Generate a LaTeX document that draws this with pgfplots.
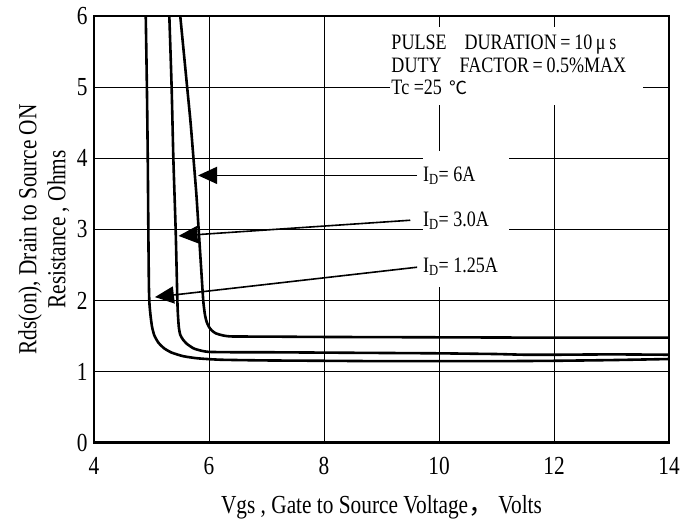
\documentclass[border=0pt]{standalone}
\usepackage{fontspec}
\setmainfont{Liberation Serif}[FakeStretch=0.82]
\newfontfamily\cjk{Noto Sans CJK SC}
\usepackage{pgfplots}
\pgfplotsset{compat=1.18}
\usetikzlibrary{arrows.meta}

% Rds(on) versus gate voltage for three drain currents
\pgfplotstableread{
x y
4.90 6.00
4.92 5.00
4.935 4.00
4.945 3.00
4.955 2.20
4.965 1.95
4.985 1.78
5.01 1.63
5.05 1.51
5.12 1.41
5.22 1.33
5.35 1.27
5.55 1.22
5.80 1.19
6.20 1.17
7.00 1.16
8.00 1.155
9.00 1.15
10.00 1.15
11.00 1.15
12.00 1.155
13.00 1.165
14.00 1.18
}\idlow

\pgfplotstableread{
x y
5.31 6.00
5.35 5.00
5.38 4.00
5.42 3.00
5.45 2.00
5.46 1.80
5.475 1.63
5.50 1.52
5.55 1.45
5.62 1.39
5.73 1.33
5.85 1.30
6.00 1.28
6.50 1.275
7.00 1.275
8.00 1.27
9.00 1.265
10.00 1.26
10.50 1.255
11.00 1.25
11.50 1.24
12.00 1.24
13.00 1.245
14.00 1.24
}\idmid

\pgfplotstableread{
x y
5.50 6.00
5.56 5.50
5.62 5.00
5.68 4.50
5.73 4.00
5.78 3.50
5.82 3.00
5.86 2.50
5.90 2.00
5.93 1.80
5.96 1.70
6.00 1.63
6.05 1.58
6.12 1.54
6.25 1.51
6.40 1.497
7.00 1.495
8.00 1.49
10.00 1.485
12.00 1.48
14.00 1.48
}\idhigh

\begin{document}
\begin{tikzpicture}
\path[use as bounding box] (0pt,0pt) rectangle (697pt,526pt);
\begin{axis}[
  at={(94pt,83pt)}, anchor=south west,
  width=575pt, height=427pt, scale only axis,
  xmin=4, xmax=14, ymin=0, ymax=6,
  xtick={4,6,...,14}, ytick={0,1,...,6},
  grid=major,
  major grid style={black, line width=0.9pt},
  major tick length=0pt,
  axis line style={line width=1.2pt},
  /pgf/number format/assume math mode=true,
  ticklabel style={font=\fontsize{26}{30}\selectfont},
  xticklabel style={yshift=-11pt},
  yticklabel style={xshift=-3pt},
  label style={font=\fontsize{26}{29}\selectfont},
  xlabel={Vgs , Gate to Source Voltage{\cjk ，}\,Volts},
  xlabel style={at={(axis description cs:0.5,0)}, anchor=center, yshift=-64pt},
  ylabel={Rds(on), Drain to Source ON\\Resistance , Ohms},
  ylabel style={at={(axis description cs:-0.087,0.5)}, anchor=center, align=center},
  clip=true,
]
\addplot[black, line width=2.6pt, smooth, tension=0.35] table {\idlow};
\addplot[black, line width=2.6pt, smooth, tension=0.35] table {\idmid};
\addplot[black, line width=2.6pt, smooth, tension=0.35] table {\idhigh};

% heavier bottom and right frame
\draw[line width=3pt] (rel axis cs:0,0) -- (rel axis cs:1,0) -- (rel axis cs:1,1);

% test conditions
\fill[white] (axis cs:9.15,4.75) rectangle (axis cs:13.55,5.84);
\begin{scope}[every node/.style={anchor=west, inner sep=0pt, font=\fontsize{22}{24}\selectfont}]
\node at (axis cs:9.17,5.60) {PULSE\hspace{18pt}DURATION\,=\,10\,μ\,s};
\node at (axis cs:9.17,5.30) {DUTY\hspace{18pt}FACTOR\,=\,0.5\%MAX};
\node at (axis cs:9.17,5.00) {Tc =25\hspace{8pt}{\cjk\fontsize{18}{22}\selectfont ℃}};
\end{scope}

% drain current labels
\fill[white] (axis cs:9.72,2.19) rectangle (axis cs:11.22,4.11);
\begin{scope}[every node/.style={anchor=west, inner sep=0pt, font=\fontsize{22}{24}\selectfont}]
\node at (axis cs:9.72,3.76) {I\textsubscript{D}= 6A};
\node at (axis cs:9.72,3.12) {I\textsubscript{D}= 3.0A};
\node at (axis cs:9.72,2.48) {I\textsubscript{D}= 1.25A};
\end{scope}
\begin{scope}[line width=1.6pt, -{Triangle[length=19pt,width=17pt]}]
\draw (axis cs:9.62,3.76) -- (axis cs:5.81,3.76);
\draw (axis cs:9.50,3.13) -- (axis cs:5.47,2.91);
\draw (axis cs:9.62,2.47) -- (axis cs:5.06,2.05);
\end{scope}
\end{axis}
\end{tikzpicture}
\end{document}
